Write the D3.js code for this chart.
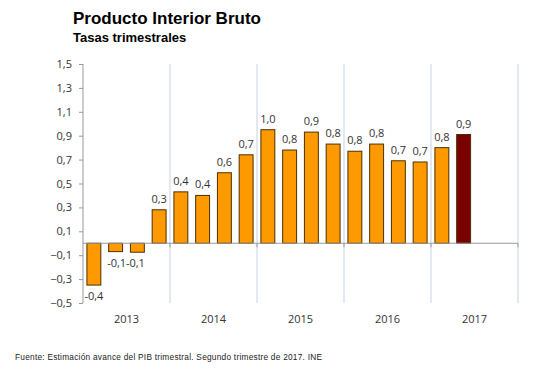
<!DOCTYPE html>
<html>
<head>
<meta charset="utf-8">
<title>Producto Interior Bruto</title>
<script src="https://d3js.org/d3.v7.min.js"></script>
<style>
  body { margin: 0; background: #fff; }
  text { font-family: "Liberation Sans", Arial, sans-serif; }
  .lbl { font-family: "Open Sans", "DejaVu Sans", sans-serif; }
</style>
</head>
<body>
<div id="chart"></div>
<script>
// quarterly GDP rates
var years = ["2013", "2014", "2015", "2016", "2017"];
var quarters = ["2013T1","2013T2","2013T3","2013T4",
                "2014T1","2014T2","2014T3","2014T4",
                "2015T1","2015T2","2015T3","2015T4",
                "2016T1","2016T2","2016T3","2016T4",
                "2017T1","2017T2","2017T3","2017T4"];
var values = [-0.35, -0.07, -0.075, 0.28,
              0.43, 0.40, 0.59, 0.74,
              0.95, 0.78, 0.93, 0.83,
              0.77, 0.83, 0.69, 0.68,
              0.80, 0.91];
var labels = ["-0,4","-0,1","-0,1","0,3",
              "0,4","0,4","0,6","0,7",
              "1,0","0,8","0,9","0,8",
              "0,8","0,8","0,7","0,7",
              "0,8","0,9"];
var yTicks = [1.5, 1.3, 1.1, 0.9, 0.7, 0.5, 0.3, 0.1, -0.1, -0.3, -0.5];

var width = 540, height = 371;
var plotLeft = 83, plotRight = 518, plotTop = 64, plotBottom = 303;

var svg = d3.select("#chart").append("svg")
    .attr("width", width)
    .attr("height", height);

var x = d3.scaleBand()
    .domain(quarters)
    .range([plotLeft, plotRight])
    .paddingInner(0.36)
    .paddingOuter(0.18);

var xYear = d3.scaleBand()
    .domain(years)
    .range([plotLeft, plotRight]);

var y = d3.scaleLinear()
    .domain([-0.5, 1.5])
    .range([plotBottom, plotTop]);

// title
svg.append("text")
    .attr("x", 73).attr("y", 24)
    .style("font-size", "17px").style("font-weight", "bold")
    .text("Producto Interior Bruto");
svg.append("text")
    .attr("x", 73).attr("y", 42)
    .style("font-size", "13px").style("font-weight", "bold")
    .text("Tasas trimestrales");

// year separators
var sepYears = years.slice(1).concat(["2018"]);
function sepX(d, i) { return plotLeft + (i + 1) * xYear.bandwidth(); }

svg.selectAll(".sep")
    .data(sepYears)
    .enter().append("line")
    .attr("x1", sepX).attr("x2", sepX)
    .attr("y1", plotTop).attr("y2", plotBottom)
    .attr("stroke", "#c5d3e6").attr("stroke-width", 1);

// y axis
var yAxis = svg.append("g")
    .attr("transform", "translate(" + plotLeft + ",0)")
    .call(d3.axisLeft(y).tickValues(yTicks).tickSize(4).tickPadding(7)
      .tickFormat(function(d) { return d3.format(".1f")(d).replace(".", ","); }));
yAxis.select(".domain").attr("stroke", "#999").attr("d", "M0," + plotTop + "V" + plotBottom);
yAxis.selectAll(".tick line").attr("stroke", "#999");
yAxis.selectAll("text").attr("class", "lbl").style("font-size", "11px").attr("fill", "#333");

// bars
svg.selectAll(".bar")
    .data(values)
    .enter().append("rect")
    .attr("x", function(d, i) { return x(quarters[i]); })
    .attr("width", x.bandwidth())
    .attr("y", function(d) { return y(Math.max(0, d)); })
    .attr("height", function(d) { return Math.abs(y(d) - y(0)); })
    .attr("fill", function(d, i) { return i === values.length - 1 ? "#7a0000" : "#ff9900"; })
    .attr("stroke", "#4a3000").attr("stroke-width", 1);

// zero line
svg.append("line")
    .attr("x1", plotLeft).attr("x2", plotRight)
    .attr("y1", y(0)).attr("y2", y(0))
    .attr("stroke", "#999");
svg.selectAll(".ztick")
    .data(sepYears)
    .enter().append("line")
    .attr("x1", sepX).attr("x2", sepX)
    .attr("y1", y(0)).attr("y2", y(0) + 4)
    .attr("stroke", "#999");

// value labels
svg.selectAll(".val")
    .data(values)
    .enter().append("text")
    .attr("class", "lbl")
    .attr("x", function(d, i) {
      var cx = x(quarters[i]) + x.bandwidth() / 2;
      return i === 1 ? cx + 1 : (i === 2 ? cx - 2 : cx);
    })
    .attr("y", function(d) { return d < 0 ? y(d) + 15 : y(d) - 7; })
    .attr("text-anchor", "middle")
    .style("font-size", "11px").attr("fill", "#333")
    .text(function(d, i) { return labels[i]; });

// year labels
svg.selectAll(".yr")
    .data(years)
    .enter().append("text")
    .attr("class", "lbl")
    .attr("x", function(d) { return xYear(d) + xYear.bandwidth() / 2; })
    .attr("y", 323)
    .attr("text-anchor", "middle")
    .style("font-size", "11px").attr("fill", "#333")
    .text(function(d) { return d; });

// footer
svg.append("text")
    .attr("x", 15).attr("y", 360)
    .attr("textLength", 307).attr("lengthAdjust", "spacing")
    .style("font-size", "8.3px").attr("fill", "#222")
    .text("Fuente:  Estimación avance del PIB trimestral. Segundo trimestre de 2017. INE");
</script>
</body>
</html>
